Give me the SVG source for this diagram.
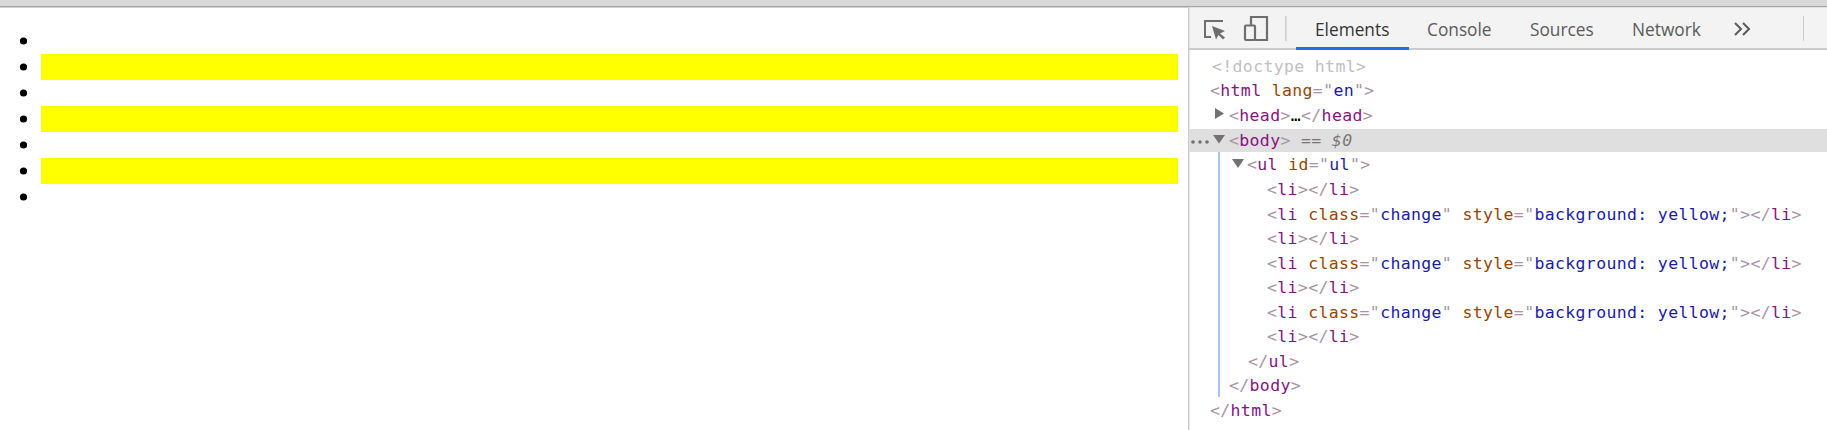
<svg xmlns="http://www.w3.org/2000/svg" width="1827" height="430" viewBox="0 0 1827 430">
<style>
.c{font-family:"DejaVu Sans Mono",monospace;font-size:16.500px;letter-spacing:.35px;white-space:pre}
.t{fill:#a894a6}.n{fill:#881280}.a{fill:#994500}.v{fill:#1a1aa6}
.tab{font-family:"Open Sans",sans-serif;font-size:17.300px;fill:#5a5a5a}
.y{fill:#ff0}
</style>
<rect width="1827" height="430" fill="#fff"/>
<rect width="1827" height="6" fill="#d9d9d9"/><rect y="6" width="1827" height="1.500" fill="#a3a3a3"/>
<g id="page">
<g fill="#000"><circle cx="23.500" cy="41" r="3.600"/><circle cx="23.500" cy="67" r="3.600"/><circle cx="23.500" cy="93" r="3.600"/><circle cx="23.500" cy="119" r="3.600"/><circle cx="23.500" cy="145" r="3.600"/><circle cx="23.500" cy="171" r="3.600"/><circle cx="23.500" cy="197" r="3.600"/></g>
<rect class="y" x="41" y="54" width="1137" height="26"/><rect class="y" x="41" y="106" width="1137" height="26"/><rect class="y" x="41" y="158" width="1137" height="26"/>
</g>
<g id="devtools">
<rect x="1188" y="7.500" width="639" height="41" fill="#f3f3f3"/>
<rect x="1188" y="48" width="639" height="2" fill="#ccc"/>
<rect x="1188" y="7.500" width="1.500" height="423" fill="#ccc"/>
<path d="M1223 21H1205V37H1211" fill="none" stroke="#6e6e6e" stroke-width="2"/>
<path d="M1212 26l13 5-5 2.500 5 4-2 2-4.500-4.500-2.500 4.500z" fill="#6e6e6e"/>
<path d="M1251 25V17h16v23h-12" fill="none" stroke="#6e6e6e" stroke-width="2.200"/><rect x="1245" y="25.500" width="10" height="14.500" rx="1" fill="none" stroke="#6e6e6e" stroke-width="2.200"/>
<rect x="1285" y="16" width="1.500" height="25" fill="#ccc"/>
<rect x="1803" y="16" width="1" height="25" fill="#ccc"/>
<rect x="1296" y="47" width="113" height="3" fill="#1a73e8"/>
<text class="tab" x="1315" y="36" style="fill:#333">Elements</text>
<text class="tab" x="1427" y="36">Console</text>
<text class="tab" x="1530" y="36">Sources</text>
<text class="tab" x="1632" y="36">Network</text>
<path d="M1735 23l6 6-6 6M1743 23l6 6-6 6" fill="none" stroke="#5a5a5a" stroke-width="2"/>
<rect x="1189" y="129" width="638" height="23" fill="#dfdfdf"/>
<rect x="1218" y="152" width="2" height="245" fill="#a8c4ee"/>
<g fill="#727272"><path d="M1215 108l9 5.500-9 5.500z"/><path d="M1213 135h12l-6 8.500z"/><path d="M1232 159h12l-6 9z"/><circle cx="1193" cy="142" r="1.800"/><circle cx="1200" cy="142" r="1.800"/><circle cx="1207" cy="142" r="1.800"/></g>
<g class="c">
<text x="1212" y="72" fill="#c0c0c0">&lt;!doctype html&gt;</text>
<text x="1210" y="96"><tspan class="t">&lt;</tspan><tspan class="n">html</tspan><tspan class="a"> lang</tspan><tspan class="t">="</tspan><tspan class="v">en</tspan><tspan class="t">"&gt;</tspan></text>
<text x="1229" y="121"><tspan class="t">&lt;</tspan><tspan class="n">head</tspan><tspan class="t">&gt;</tspan>…<tspan class="t">&lt;/</tspan><tspan class="n">head</tspan><tspan class="t">&gt;</tspan></text>
<text x="1229" y="146"><tspan class="t">&lt;</tspan><tspan class="n">body</tspan><tspan class="t">&gt;</tspan><tspan fill="#777" font-style="italic"> == $0</tspan></text>
<text x="1247" y="170"><tspan class="t">&lt;</tspan><tspan class="n">ul</tspan><tspan class="a"> id</tspan><tspan class="t">="</tspan><tspan class="v">ul</tspan><tspan class="t">"&gt;</tspan></text>
<text x="1267" y="195"><tspan class="t">&lt;</tspan><tspan class="n">li</tspan><tspan class="t">&gt;&lt;/</tspan><tspan class="n">li</tspan><tspan class="t">&gt;</tspan></text>
<text x="1267" y="220"><tspan class="t">&lt;</tspan><tspan class="n">li</tspan><tspan class="a"> class</tspan><tspan class="t">="</tspan><tspan class="v">change</tspan><tspan class="t">"</tspan><tspan class="a"> style</tspan><tspan class="t">="</tspan><tspan class="v">background: yellow;</tspan><tspan class="t">"&gt;&lt;/</tspan><tspan class="n">li</tspan><tspan class="t">&gt;</tspan></text>
<text x="1267" y="244"><tspan class="t">&lt;</tspan><tspan class="n">li</tspan><tspan class="t">&gt;&lt;/</tspan><tspan class="n">li</tspan><tspan class="t">&gt;</tspan></text>
<text x="1267" y="269"><tspan class="t">&lt;</tspan><tspan class="n">li</tspan><tspan class="a"> class</tspan><tspan class="t">="</tspan><tspan class="v">change</tspan><tspan class="t">"</tspan><tspan class="a"> style</tspan><tspan class="t">="</tspan><tspan class="v">background: yellow;</tspan><tspan class="t">"&gt;&lt;/</tspan><tspan class="n">li</tspan><tspan class="t">&gt;</tspan></text>
<text x="1267" y="293"><tspan class="t">&lt;</tspan><tspan class="n">li</tspan><tspan class="t">&gt;&lt;/</tspan><tspan class="n">li</tspan><tspan class="t">&gt;</tspan></text>
<text x="1267" y="318"><tspan class="t">&lt;</tspan><tspan class="n">li</tspan><tspan class="a"> class</tspan><tspan class="t">="</tspan><tspan class="v">change</tspan><tspan class="t">"</tspan><tspan class="a"> style</tspan><tspan class="t">="</tspan><tspan class="v">background: yellow;</tspan><tspan class="t">"&gt;&lt;/</tspan><tspan class="n">li</tspan><tspan class="t">&gt;</tspan></text>
<text x="1267" y="342"><tspan class="t">&lt;</tspan><tspan class="n">li</tspan><tspan class="t">&gt;&lt;/</tspan><tspan class="n">li</tspan><tspan class="t">&gt;</tspan></text>
<text x="1248" y="367"><tspan class="t">&lt;/</tspan><tspan class="n">ul</tspan><tspan class="t">&gt;</tspan></text>
<text x="1229" y="391"><tspan class="t">&lt;/</tspan><tspan class="n">body</tspan><tspan class="t">&gt;</tspan></text>
<text x="1210" y="416"><tspan class="t">&lt;/</tspan><tspan class="n">html</tspan><tspan class="t">&gt;</tspan></text>
</g>
</g>
</svg>
